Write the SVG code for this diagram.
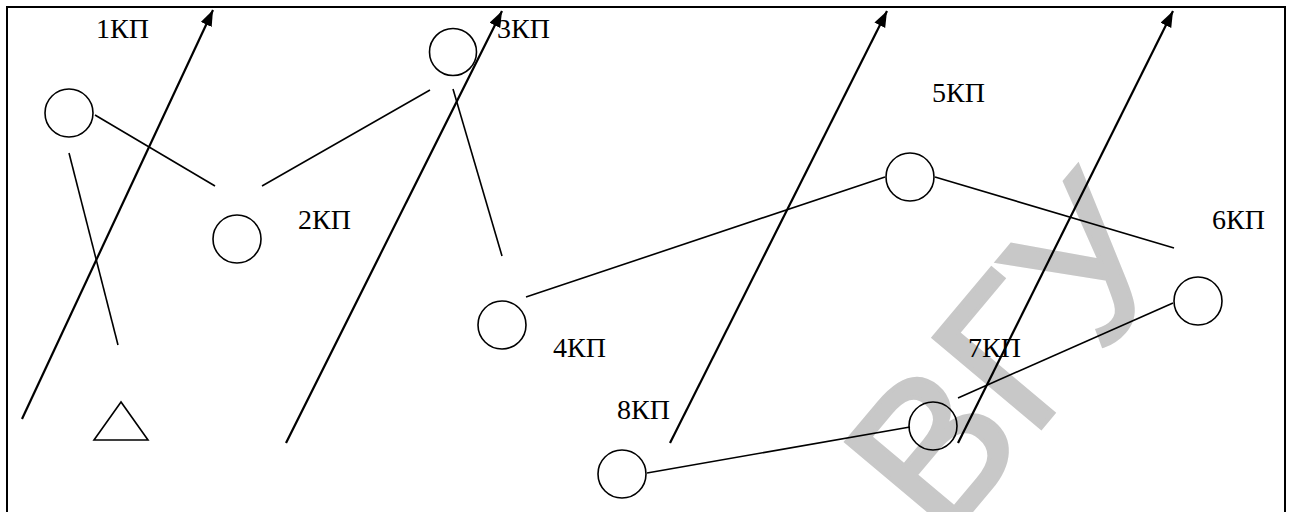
<svg xmlns="http://www.w3.org/2000/svg" width="1291" height="512" viewBox="0 0 1291 512">
<style>
.lbl{font-family:"Liberation Serif","Times New Roman",serif;font-size:28px;fill:#000}
.nd{fill:none;stroke:#000;stroke-width:1.6}
.ln{stroke:#000;stroke-width:1.6;fill:none}
.ar{stroke:#000;stroke-width:2.2;fill:none;marker-end:url(#ah)}
.wm{font-family:"Liberation Sans",Arial,sans-serif;font-size:204px;fill:#c8c8c8;stroke:#c8c8c8;stroke-width:4;stroke-linejoin:miter}
</style>
<defs>
<marker id="ah" markerUnits="userSpaceOnUse" markerWidth="18" markerHeight="14" refX="16" refY="6" orient="auto">
<path d="M0,0 L16,6 L0,12 z" fill="#000"/>
</marker>
</defs>
<rect x="0" y="0" width="1291" height="512" fill="#fff"/>
<text class="wm" x="-151" y="0" transform="translate(1040 429) rotate(-50)">ВГУ</text>
<rect x="7" y="7" width="1278" height="520" fill="none" stroke="#000" stroke-width="2"/>
<g id="connectors">
<line class="ln" x1="95" y1="115" x2="215" y2="186"/>
<line class="ln" x1="262" y1="186" x2="430" y2="90"/>
<line class="ln" x1="69" y1="153" x2="118" y2="345"/>
<line class="ln" x1="453" y1="89" x2="502" y2="256"/>
<line class="ln" x1="526" y1="297" x2="885" y2="177"/>
<line class="ln" x1="935" y1="177" x2="1174" y2="248"/>
<line class="ln" x1="1173" y1="303" x2="958" y2="398"/>
<line class="ln" x1="647" y1="473" x2="910" y2="427"/>
<line class="ar" x1="22" y1="419" x2="213" y2="10"/>
<line class="ar" x1="286" y1="443" x2="502" y2="11"/>
<line class="ar" x1="670" y1="443" x2="887" y2="11"/>
<line class="ar" x1="958" y1="443" x2="1173" y2="11"/>
</g>
<g id="n1"><circle class="nd" cx="69" cy="113" r="24"/><text class="lbl" x="96" y="38">1КП</text></g>
<g id="n2"><circle class="nd" cx="237" cy="239" r="24"/><text class="lbl" x="298" y="229">2КП</text></g>
<g id="n3"><circle class="nd" cx="453" cy="52" r="23.5"/><text class="lbl" x="497" y="38">3КП</text></g>
<g id="n4"><circle class="nd" cx="502" cy="325" r="24"/><text class="lbl" x="553" y="357">4КП</text></g>
<g id="n5"><circle class="nd" cx="910" cy="177" r="24"/><text class="lbl" x="932" y="102">5КП</text></g>
<g id="n6"><circle class="nd" cx="1198" cy="301" r="24"/><text class="lbl" x="1212" y="229">6КП</text></g>
<g id="n7"><circle class="nd" cx="933" cy="426" r="24"/><text class="lbl" x="968" y="357">7КП</text></g>
<g id="n8"><circle class="nd" cx="622" cy="474" r="24"/><text class="lbl" x="617" y="419">8КП</text></g>
<g id="base"><polygon class="nd" points="121,402 94,440 148,440"/></g>
</svg>
